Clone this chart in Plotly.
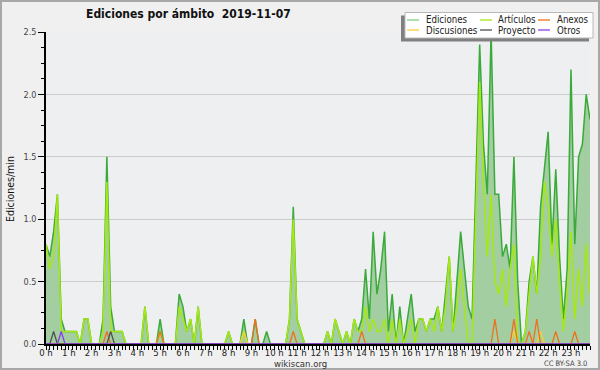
import plotly.graph_objects as go

# 10-minute bins, 6 per hour (values in edits/min)
hours = [f"{h} h" for h in range(24)]

ediciones = [
    0.8, 0.7, 0.9, 1.2, 0.2, 0.1,   # 0 h
    0.1, 0.1, 0.1, 0.0, 0.2, 0.2,   # 1 h
    0.0, 0.0, 0.0, 0.2, 1.5, 0.3,   # 2 h
    0.1, 0.1, 0.1, 0.0, 0.0, 0.0,   # 3 h
    0.0, 0.0, 0.3, 0.0, 0.0, 0.0,   # 4 h
    0.2, 0.0, 0.0, 0.0, 0.0, 0.4,   # 5 h
    0.3, 0.1, 0.2, 0.0, 0.3, 0.0,   # 6 h
    0.0, 0.0, 0.0, 0.0, 0.0, 0.0,   # 7 h
    0.1, 0.0, 0.0, 0.0, 0.2, 0.0,   # 8 h
    0.0, 0.2, 0.0, 0.0, 0.1, 0.0,   # 9 h
    0.0, 0.0, 0.0, 0.0, 0.2, 1.1,   # 10 h
    0.2, 0.1, 0.0, 0.0, 0.0, 0.0,   # 11 h
    0.0, 0.0, 0.1, 0.0, 0.2, 0.1,   # 12 h
    0.0, 0.1, 0.0, 0.2, 0.1, 0.2,   # 13 h
    0.6, 0.2, 0.9, 0.4, 0.6, 0.9,   # 14 h
    0.1, 0.4, 0.0, 0.3, 0.0, 0.2,   # 15 h
    0.4, 0.1, 0.2, 0.2, 0.1, 0.2,   # 16 h
    0.2, 0.3, 0.1, 0.4, 0.7, 0.1,   # 17 h
    0.5, 0.9, 0.6, 0.3, 0.2, 1.3,   # 18 h
    2.4, 1.6, 1.2, 2.5, 1.2, 1.2,   # 19 h
    0.7, 0.8, 0.6, 1.5, 0.5, 0.0,   # 20 h
    0.1, 0.5, 0.7, 0.4, 1.1, 1.4,   # 21 h
    1.7, 0.8, 1.4, 0.7, 0.2, 0.6,   # 22 h
    2.2, 0.8, 1.5, 1.6, 2.0, 1.8,   # 23 h
]

articulos = [
    0.8, 0.6, 0.7, 1.2, 0.1, 0.1,
    0.1, 0.1, 0.1, 0.0, 0.2, 0.2,
    0.0, 0.0, 0.0, 0.1, 1.3, 0.1,
    0.1, 0.1, 0.1, 0.0, 0.0, 0.0,
    0.0, 0.0, 0.3, 0.0, 0.0, 0.0,
    0.1, 0.0, 0.0, 0.0, 0.0, 0.3,
    0.2, 0.1, 0.2, 0.0, 0.3, 0.0,
    0.0, 0.0, 0.0, 0.0, 0.0, 0.0,
    0.1, 0.0, 0.0, 0.0, 0.1, 0.0,
    0.0, 0.0, 0.0, 0.0, 0.0, 0.0,
    0.0, 0.0, 0.0, 0.0, 0.2, 1.0,
    0.2, 0.1, 0.0, 0.0, 0.0, 0.0,
    0.0, 0.0, 0.1, 0.0, 0.2, 0.1,
    0.0, 0.1, 0.0, 0.2, 0.1, 0.1,
    0.3, 0.1, 0.2, 0.1, 0.1, 0.2,
    0.0, 0.2, 0.0, 0.2, 0.0, 0.1,
    0.2, 0.0, 0.2, 0.2, 0.1, 0.2,
    0.1, 0.3, 0.1, 0.3, 0.7, 0.1,
    0.3, 0.6, 0.3, 0.0, 0.0, 1.0,
    2.1, 1.3, 0.7, 1.2, 0.5, 0.4,
    0.6, 0.3, 0.6, 0.8, 0.0, 0.0,
    0.1, 0.4, 0.7, 0.4, 0.7, 1.3,
    1.1, 0.7, 1.0, 0.5, 0.1, 0.4,
    0.9, 0.2, 0.6, 0.3, 0.8, 0.4,
]

# sparse series: {bin index: value}
anexos_pts = {16: 0.1, 30: 0.1, 55: 0.2, 65: 0.1, 83: 0.1, 118: 0.2,
              123: 0.2, 127: 0.1, 129: 0.2, 134: 0.1, 139: 0.1}
discusiones_pts = {52: 0.1, 123: 0.1, 130: 0.1}
proyecto_pts = {2: 0.1, 17: 0.1}
otros_pts = {4: 0.1}

N = len(ediciones)
bins = list(range(N))


def dense(pts):
    return [pts.get(i, 0.0) for i in bins]


anexos = dense(anexos_pts)
discusiones = dense(discusiones_pts)
proyecto = dense(proyecto_pts)
otros = dense(otros_pts)

C_ED = "#3aaa3a"
C_ED_FILL = "#a2cea2"
C_ART = "#a6e812"
C_ANX = "#f0701e"
C_DIS = "#f7cf3a"
C_PRO = "#505050"
C_OTR = "#8a3ee8"

fig = go.Figure()
fig.add_trace(go.Scatter(x=bins, y=ediciones, mode="lines", fill="tozeroy",
                         fillcolor=C_ED_FILL, line=dict(color=C_ED, width=1.5),
                         name="Ediciones"))
fig.add_trace(go.Scatter(x=bins, y=articulos, mode="lines",
                         line=dict(color=C_ART, width=1.5), name="Artículos"))
for ys, c, n in [(discusiones, C_DIS, "Discusiones"), (anexos, C_ANX, "Anexos"),
                 (proyecto, C_PRO, "Proyecto"), (otros, C_OTR, "Otros")]:
    fig.add_trace(go.Scatter(x=bins, y=ys, mode="lines",
                             line=dict(color=c, width=1.3), name=n))

FONT = "DejaVu Sans Condensed, Liberation Sans Narrow, DejaVu Sans, sans-serif"
L, R, T, B = 46, 10, 32, 26
W, H = 600, 370
PW, PH = W - L - R, H - T - B


def px(xp):
    return (xp - L) / PW


def py(yp):
    return (H - B - yp) / PH


fig.update_layout(
    width=W, height=H, autosize=False,
    margin=dict(l=L, r=R, t=T, b=B, pad=0),
    paper_bgcolor="#f0f0f0", plot_bgcolor="#eeeff1",
    showlegend=False,
    font=dict(family=FONT, size=10, color="#222"),
)
fig.update_xaxes(
    range=[0, N - 1], tickmode="array",
    tickvals=[h * 6 for h in range(24)], ticktext=hours,
    ticks="outside", ticklen=4, tickcolor="black", tickwidth=1,
    minor=dict(dtick=1, ticks="outside", ticklen=4, tickcolor="black", tickwidth=1),
    showgrid=False, zeroline=False, showline=True, linecolor="black", linewidth=2,
    tickfont=dict(size=9.5, color="#222", family=FONT),
)
try:
    fig.update_xaxes(ticklabelstandoff=-5)
except Exception:
    pass
fig.update_yaxes(
    range=[0, 2.5], dtick=0.5, tickformat=".1f",
    ticks="outside", ticklen=6, tickcolor="black", tickwidth=1,
    minor=dict(dtick=0.125, ticks="outside", ticklen=3, tickcolor="black", tickwidth=1,
               showgrid=False),
    showgrid=True, gridcolor="#cccccc", gridwidth=1,
    zeroline=False, showline=True, linecolor="black", linewidth=1.5,
    tickfont=dict(size=9, color="#444", family=FONT),
)

shapes = []
annotations = []
# outer border
shapes.append(dict(type="rect", xref="paper", yref="paper",
                   x0=px(1), x1=px(W - 1), y0=py(H - 1), y1=py(1),
                   line=dict(color="#a8a8a8", width=2), fillcolor="rgba(0,0,0,0)", layer="above"))
# legend shadow and box
shapes.append(dict(type="rect", xref="paper", yref="paper",
                   x0=px(401), x1=px(589), y0=py(41.5), y1=py(15.5),
                   line=dict(width=0), fillcolor="#808080", layer="above"))
shapes.append(dict(type="rect", xref="paper", yref="paper",
                   x0=px(405), x1=px(593), y0=py(38), y1=py(12.5),
                   line=dict(color="#b8b8b8", width=1), fillcolor="white", layer="above"))

legend_items = [
    ("Ediciones", "#7fcf7f", 407, 424, 20),
    ("Artículos", C_ART, 480, 496, 20),
    ("Anexos", C_ANX, 538, 555, 20),
    ("Discusiones", C_DIS, 407, 424, 30),
    ("Proyecto", C_PRO, 480, 496, 30),
    ("Otros", C_OTR, 538, 555, 30),
]
for name, col, lx, tx, yy in legend_items:
    shapes.append(dict(type="line", xref="paper", yref="paper",
                       x0=px(lx), x1=px(lx + 12), y0=py(yy), y1=py(yy),
                       line=dict(color=col, width=1.3), layer="above"))
    annotations.append(dict(xref="paper", yref="paper", x=px(tx), y=py(yy),
                            text=name, showarrow=False, xanchor="left", yanchor="middle",
                            font=dict(size=9.6, color="#222", family=FONT)))

annotations.append(dict(xref="paper", yref="paper", x=px(188), y=py(14),
                        text="<b>Ediciones por ámbito  2019-11-07</b>", showarrow=False,
                        xanchor="center", yanchor="middle",
                        font=dict(size=12, color="#111", family=FONT)))
annotations.append(dict(xref="paper", yref="paper", x=px(10), y=py(189),
                        text="Ediciones/min", showarrow=False, textangle=-90,
                        xanchor="center", yanchor="middle",
                        font=dict(size=10.5, color="#111", family=FONT)))
annotations.append(dict(xref="paper", yref="paper", x=px(300), y=py(363.5),
                        text="wikiscan.org", showarrow=False,
                        xanchor="center", yanchor="middle",
                        font=dict(size=9.5, color="#333", family=FONT)))
annotations.append(dict(xref="paper", yref="paper", x=px(589), y=py(363.5),
                        text="CC BY-SA 3.0", showarrow=False,
                        xanchor="right", yanchor="middle",
                        font=dict(size=7.5, color="#444", family=FONT)))

fig.update_layout(shapes=shapes, annotations=annotations)
fig.write_html("out.html", config={"displayModeBar": False},
               post_script="document.body.style.margin='0';document.body.style.overflow='hidden';")
